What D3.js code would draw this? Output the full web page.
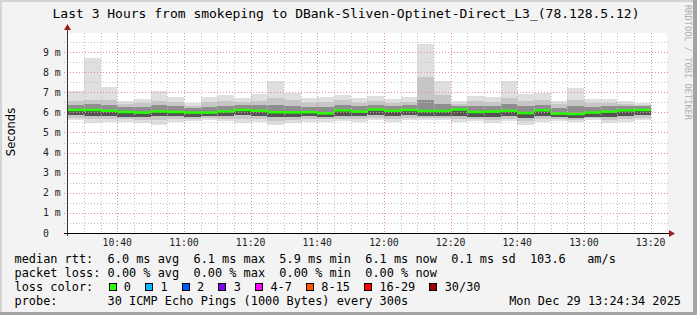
<!DOCTYPE html>
<html>
<head>
<meta charset="utf-8">
<script src="https://cdn.jsdelivr.net/npm/d3@7"></script>
<style>
  html, body { margin: 0; padding: 0; background: #f3f3f3; }
  svg { display: block; }
  text { font-family: "DejaVu Sans Mono", monospace; white-space: pre; }
</style>
</head>
<body>
<div class="canvas"></div>
<script>
// 5 minute bins, first one starts 10:25
const binStart = new Date(2025, 11, 29, 10, 25);
const medianRtt = [6.12, 6.12, 6.08, 6.02, 5.99, 6.05, 6.02, 5.99, 5.99, 6.05, 6.12, 6.08, 6.01, 6.00, 6.01, 5.95, 6.10, 6.04, 6.14, 6.08, 6.12, 6.07, 6.07, 6.14, 6.02, 6.04, 6.08, 5.97, 6.10, 5.94, 5.92, 5.99, 6.04, 6.10, 6.12];
const maxRtt = [7.08, 8.72, 7.26, 6.57, 6.67, 7.05, 6.77, 6.45, 6.77, 6.88, 6.72, 6.93, 7.56, 6.95, 6.70, 6.77, 6.88, 6.70, 6.82, 6.65, 6.77, 9.40, 7.56, 6.57, 6.83, 6.78, 7.56, 6.93, 6.98, 6.57, 7.23, 6.68, 6.67, 6.57, 6.45];
const p90Rtt = [6.55, 6.62, 6.60, 6.40, 6.45, 6.55, 6.50, 6.30, 6.50, 6.55, 6.50, 6.55, 6.70, 6.60, 6.45, 6.50, 6.60, 6.45, 6.55, 6.45, 6.50, 7.78, 6.85, 6.40, 6.55, 6.50, 6.70, 6.55, 6.60, 6.40, 6.60, 6.45, 6.45, 6.40, 6.35];
const p75Rtt = [6.35, 6.40, 6.35, 6.25, 6.25, 6.35, 6.30, 6.20, 6.25, 6.30, 6.35, 6.35, 6.35, 6.30, 6.25, 6.25, 6.35, 6.30, 6.35, 6.30, 6.35, 6.60, 6.40, 6.30, 6.30, 6.30, 6.40, 6.30, 6.35, 6.20, 6.30, 6.25, 6.30, 6.30, 6.30];
const p25Rtt = [5.85, 5.82, 5.80, 5.78, 5.78, 5.80, 5.80, 5.78, 5.80, 5.80, 5.85, 5.80, 5.75, 5.78, 5.80, 5.75, 5.82, 5.80, 5.85, 5.80, 5.85, 5.82, 5.82, 5.82, 5.78, 5.75, 5.80, 5.72, 5.80, 5.75, 5.72, 5.78, 5.78, 5.82, 5.85];
const p10Rtt = [5.70, 5.65, 5.66, 5.65, 5.63, 5.60, 5.66, 5.68, 5.70, 5.66, 5.65, 5.65, 5.58, 5.62, 5.66, 5.65, 5.68, 5.65, 5.72, 5.66, 5.72, 5.70, 5.70, 5.66, 5.67, 5.60, 5.68, 5.56, 5.66, 5.66, 5.64, 5.70, 5.62, 5.66, 5.72];
const minRtt = [5.62, 5.49, 5.54, 5.54, 5.49, 5.39, 5.54, 5.57, 5.62, 5.56, 5.49, 5.54, 5.39, 5.49, 5.54, 5.54, 5.57, 5.54, 5.62, 5.54, 5.62, 5.62, 5.62, 5.54, 5.57, 5.46, 5.57, 5.39, 5.54, 5.57, 5.54, 5.62, 5.49, 5.54, 5.62];

const lossLabels = ['0', '1', '2', '3', '4-7', '8-15', '16-29', '30/30'];
const lossColors = ['#26ff00', '#00b8ff', '#0059ff', '#7e00ff', '#ff00ff', '#ff5500', '#ff0000', '#a10000'];

const statLines = [
  'median rtt:  6.0 ms avg  6.1 ms max  5.9 ms min  6.1 ms now  0.1 ms sd  103.6   am/s',
  'packet loss: 0.00 % avg  0.00 % max  0.00 % min  0.00 % now',
  'loss color:',
  'probe:       30 ICMP Echo Pings (1000 Bytes) every 300s'
];
const titleText = 'Last 3 Hours from smokeping to DBank-Sliven-Optinet-Direct_L3_(78.128.5.12)';
const stampText = 'Mon Dec 29 13:24:34 2025';

const width = 697, height = 315;
const plot = { left: 67, right: 667, top: 33, bottom: 233 };

const svg = d3.select('.canvas').append('svg')
  .attr('width', width)
  .attr('height', height);

// frame
svg.append('rect').attr('width', width).attr('height', height).attr('fill', '#f3f3f3');
svg.append('rect').attr('x', 0).attr('y', 0).attr('width', width).attr('height', 2).attr('fill', '#d4d4d4');
svg.append('rect').attr('x', 0).attr('y', 0).attr('width', 2).attr('height', height).attr('fill', '#d4d4d4');
svg.append('rect').attr('x', width - 4).attr('y', 0).attr('width', 4).attr('height', height).attr('fill', '#a3a3a3');
svg.append('rect').attr('x', 0).attr('y', height - 3).attr('width', width).attr('height', 3).attr('fill', '#a3a3a3');

const x = d3.scaleTime()
  .domain([new Date(2025, 11, 29, 10, 24, 55), new Date(2025, 11, 29, 13, 24, 55)])
  .range([plot.left, plot.right]);
const y = d3.scaleLinear()
  .domain([0, 9.95])
  .range([plot.bottom, plot.top]);

svg.append('rect')
  .attr('x', plot.left).attr('y', plot.top)
  .attr('width', plot.right - plot.left).attr('height', plot.bottom - plot.top)
  .attr('fill', '#ffffff');

// smoke
const bins = medianRtt.map((m, i) => {
  const t0 = d3.timeMinute.offset(binStart, 5 * i);
  return {
    x0: x(t0), x1: x(d3.timeMinute.offset(t0, 5)),
    med: m, min: minRtt[i], p10: p10Rtt[i], p25: p25Rtt[i],
    p75: p75Rtt[i], p90: p90Rtt[i], max: maxRtt[i]
  };
});

const layers = [
  ['min', 'max', '#dfdfdf'],
  ['p10', 'p90', '#c6c6c6'],
  ['p25', 'p75', '#8e8e8e'],
  ['p25', 'med', '#545454']
];

const smoke = svg.append('g').attr('shape-rendering', 'crispEdges');
layers.forEach(([lo, hi, fill]) => {
  smoke.selectAll(null)
    .data(bins)
    .join('rect')
    .attr('x', d => d.x0)
    .attr('width', d => d.x1 - d.x0)
    .attr('y', d => y(d[hi]))
    .attr('height', d => y(d[lo]) - y(d[hi]))
    .attr('fill', fill);
});

// grid
const grid = svg.append('g').attr('shape-rendering', 'crispEdges');
const minorTimes = d3.timeMinute.every(5).range(x.domain()[0], x.domain()[1]);
minorTimes.forEach(t => {
  const major = t.getMinutes() % 20 === 0;
  const px = Math.round(x(t)) + 0.5;
  if (px <= plot.left + 1) return;
  grid.append('line')
    .attr('x1', px).attr('x2', px)
    .attr('y1', plot.top).attr('y2', plot.bottom)
    .attr('stroke', major ? '#e79090' : '#c4c4c4')
    .attr('stroke-dasharray', '1,2');
});
d3.range(1, 20).map(v => v / 2).forEach(v => {
  const major = Number.isInteger(v);
  const py = Math.round(y(v)) + 0.5;
  grid.append('line')
    .attr('x1', plot.left - 3).attr('x2', plot.right + 2)
    .attr('y1', py).attr('y2', py)
    .attr('stroke', major ? '#e79090' : '#c4c4c4')
    .attr('stroke-dasharray', '1,2');
});

// median line
svg.append('g').selectAll('line')
  .data(bins)
  .join('line')
  .attr('x1', d => d.x0).attr('x2', d => d.x1)
  .attr('y1', d => y(d.med)).attr('y2', d => y(d.med))
  .attr('stroke', lossColors[0])
  .attr('stroke-width', 2.5);

// axes
const axisColor = '#333';
const arrowColor = '#9b1c1c';
svg.append('line')
  .attr('x1', plot.left + 0.5).attr('x2', plot.left + 0.5)
  .attr('y1', plot.bottom + 3).attr('y2', 28)
  .attr('stroke', axisColor);
svg.append('path')
  .attr('d', `M${plot.left - 3},30 L${plot.left + 4},30 L${plot.left + 0.5},24 Z`)
  .attr('fill', arrowColor);
svg.append('line')
  .attr('x1', plot.left - 3).attr('x2', 670)
  .attr('y1', plot.bottom + 0.5).attr('y2', plot.bottom + 0.5)
  .attr('stroke', '#000');
svg.append('path')
  .attr('d', `M669,${plot.bottom - 3} L669,${plot.bottom + 4} L675,${plot.bottom + 0.5} Z`)
  .attr('fill', arrowColor);

// y labels
svg.append('g').selectAll('text')
  .data(d3.range(0, 10))
  .join('text')
  .attr('x', 43)
  .attr('y', d => y(d) + 3.6)
  .attr('font-size', 9.8)
  .attr('fill', '#222')
  .text(d => d === 0 ? '0' : `${d} m`);

// x labels
svg.append('g').selectAll('text')
  .data(d3.timeMinute.every(20).range(x.domain()[0], x.domain()[1]))
  .join('text')
  .attr('x', d => x(d))
  .attr('y', 246)
  .attr('text-anchor', 'middle')
  .attr('font-size', 9.8)
  .attr('fill', '#222')
  .text(d3.timeFormat('%H:%M'));

// titles
svg.append('text')
  .attr('x', 346).attr('y', 17.5)
  .attr('text-anchor', 'middle')
  .attr('font-size', 13)
  .attr('fill', '#000')
  .text(titleText);

svg.append('text')
  .attr('transform', 'translate(15,132) rotate(-90)')
  .attr('text-anchor', 'middle')
  .attr('font-size', 11.5)
  .attr('fill', '#000')
  .style('font-family', '"DejaVu Sans", sans-serif')
  .text('Seconds');

svg.append('text')
  .attr('transform', 'translate(685,5) rotate(90)')
  .attr('font-size', 8.7)
  .attr('fill', '#b0b0b0')
  .text('RRDTOOL / TOBI OETIKER');

// legend
const rowY = [263.3, 277.3, 291.3, 305.3];
const legend = svg.append('g').attr('font-size', 11.9).attr('fill', '#000');
statLines.forEach((line, i) => {
  legend.append('text').attr('x', 14.5).attr('y', rowY[i]).text(line);
});
legend.append('text')
  .attr('x', 681).attr('y', rowY[3])
  .attr('text-anchor', 'end')
  .text(stampText);

const charW = 7.15;
let cursor = 108.5;
lossLabels.forEach((label, i) => {
  legend.append('rect')
    .attr('x', cursor + 0.5).attr('y', rowY[2] - 7.5)
    .attr('width', 7).attr('height', 7)
    .attr('fill', lossColors[i])
    .attr('stroke', '#000')
    .attr('stroke-width', 1)
    .attr('shape-rendering', 'crispEdges');
  legend.append('text').attr('x', cursor + 15.3).attr('y', rowY[2]).text(label);
  cursor += 15.3 + label.length * charW + 14.2;
});
</script>
</body>
</html>
